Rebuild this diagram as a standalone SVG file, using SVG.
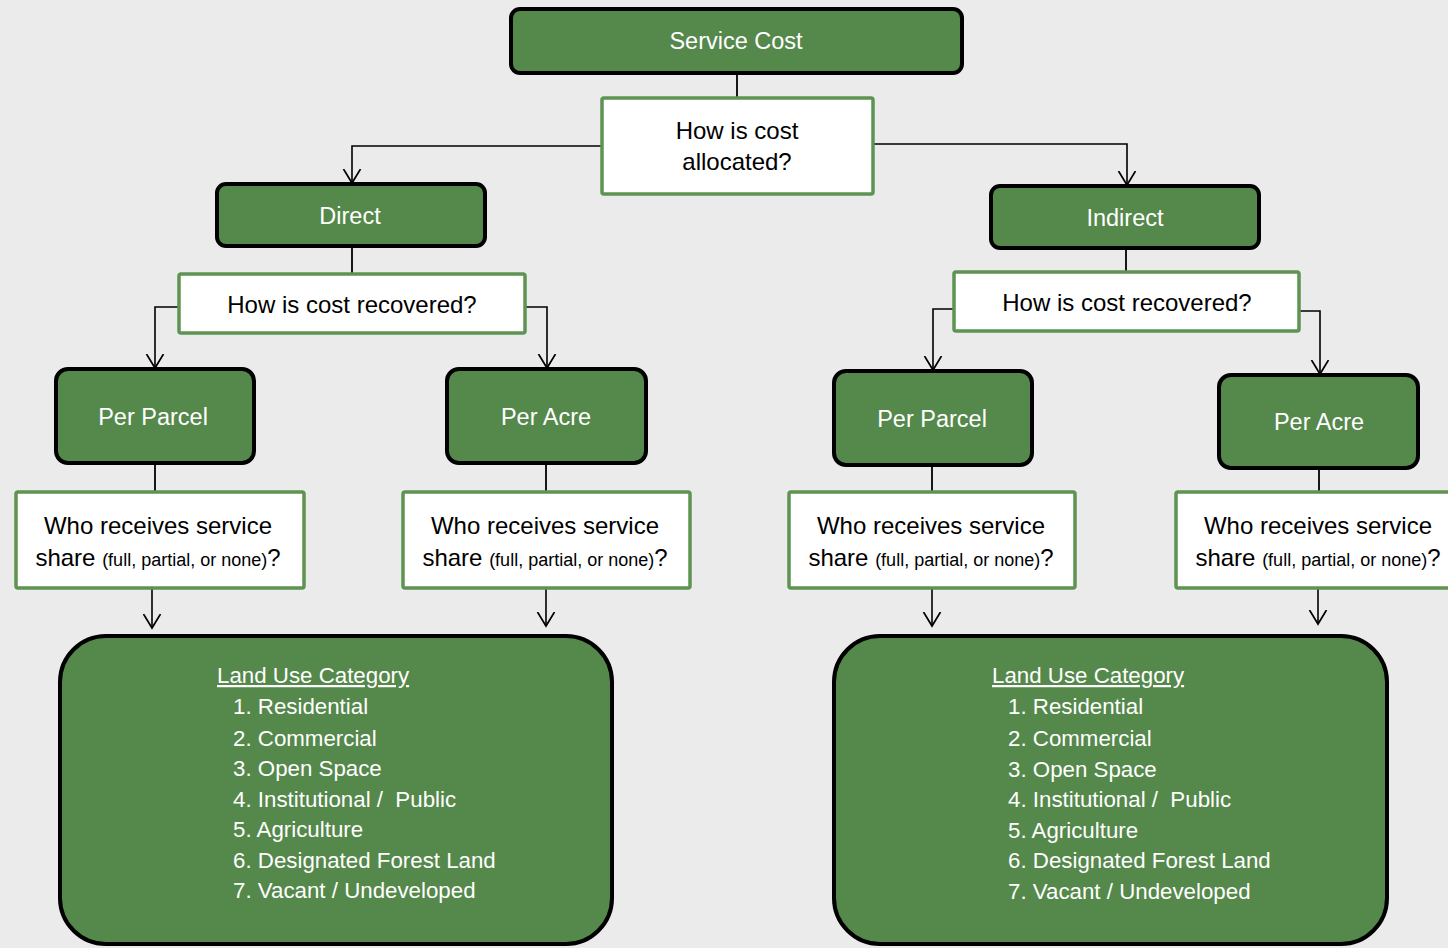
<svg xmlns="http://www.w3.org/2000/svg" width="1448" height="948" viewBox="0 0 1448 948">
<defs>
<marker id="arr" viewBox="0 -10 16 20" markerWidth="16" markerHeight="20" markerUnits="userSpaceOnUse" refX="14" refY="0" orient="auto">
<path d="M0,-8.5 L14,0 L0,8.5" fill="none" stroke="#000" stroke-width="1.7"/>
</marker>
<style>
.g{fill:#55884B;stroke:#000;stroke-width:4}
.w{fill:#fff;stroke:#5E9452;stroke-width:3.5}
.tw{font-family:"Liberation Sans",Arial,sans-serif;font-size:23.5px;fill:#fff;text-anchor:middle}
.tb{font-family:"Liberation Sans",Arial,sans-serif;font-size:24px;fill:#000;text-anchor:middle}
.sm{font-size:18px}
.lu{font-family:"Liberation Sans",Arial,sans-serif;font-size:22.3px;fill:#fff}
.c{fill:none;stroke:#000;stroke-width:1.8}
.ca{fill:none;stroke:#000;stroke-width:1.6;marker-end:url(#arr)}
</style>
</defs>
<rect width="1448" height="948" fill="#EBEBEB"/>

<g id="connectors">
<path class="c" d="M737,73 V98"/>
<path class="ca" d="M602,146 H352 V183"/>
<path class="ca" d="M873,144 H1127 V185"/>
<path class="c" d="M352,246 V274"/>
<path class="c" d="M1126,248 V272"/>
<path class="ca" d="M179,307 H155 V368"/>
<path class="ca" d="M525,307 H547 V368"/>
<path class="ca" d="M954,309 H933 V370"/>
<path class="ca" d="M1299,311 H1320 V374"/>
<path class="c" d="M155,463 V492"/>
<path class="c" d="M546,463 V492"/>
<path class="c" d="M932,465 V492"/>
<path class="c" d="M1319,468 V492"/>
<path class="ca" d="M152,588 V628"/>
<path class="ca" d="M546,588 V626"/>
<path class="ca" d="M932,588 V626"/>
<path class="ca" d="M1318,588 V624"/>
</g>

<g id="service-cost">
<rect class="g" x="511" y="9" width="451" height="64" rx="9"/>
<text class="tw" x="736" y="49">Service Cost</text>
</g>

<g id="cost-allocated">
<rect class="w" x="602" y="98" width="271" height="96" rx="2"/>
<text class="tb" x="737" y="139">How is cost</text>
<text class="tb" x="737" y="170">allocated?</text>
</g>

<g id="direct">
<rect class="g" x="217" y="184" width="268" height="62" rx="9"/>
<text class="tw" x="350" y="224">Direct</text>
</g>

<g id="indirect">
<rect class="g" x="991" y="186" width="268" height="62" rx="9"/>
<text class="tw" x="1125" y="226">Indirect</text>
</g>

<g id="recovered-direct">
<rect class="w" x="179" y="274" width="346" height="59" rx="2"/>
<text class="tb" x="352" y="313">How is cost recovered?</text>
</g>

<g id="recovered-indirect">
<rect class="w" x="954" y="272" width="345" height="59" rx="2"/>
<text class="tb" x="1127" y="311">How is cost recovered?</text>
</g>

<g id="per-parcel-direct">
<rect class="g" x="56" y="369" width="198" height="94" rx="12"/>
<text class="tw" x="153" y="425">Per Parcel</text>
</g>

<g id="per-acre-direct">
<rect class="g" x="447" y="369" width="199" height="94" rx="12"/>
<text class="tw" x="546" y="425">Per Acre</text>
</g>

<g id="per-parcel-indirect">
<rect class="g" x="834" y="371" width="198" height="94" rx="12"/>
<text class="tw" x="932" y="427">Per Parcel</text>
</g>

<g id="per-acre-indirect">
<rect class="g" x="1219" y="375" width="199" height="93" rx="12"/>
<text class="tw" x="1319" y="430">Per Acre</text>
</g>

<g id="who-1">
<rect class="w" x="16" y="492" width="288" height="96" rx="2"/>
<text class="tb" x="158" y="534">Who receives service</text>
<text class="tb" x="158" y="566">share <tspan class="sm">(full, partial, or none)</tspan>?</text>
</g>

<g id="who-2">
<rect class="w" x="403" y="492" width="287" height="96" rx="2"/>
<text class="tb" x="545" y="534">Who receives service</text>
<text class="tb" x="545" y="566">share <tspan class="sm">(full, partial, or none)</tspan>?</text>
</g>

<g id="who-3">
<rect class="w" x="789" y="492" width="286" height="96" rx="2"/>
<text class="tb" x="931" y="534">Who receives service</text>
<text class="tb" x="931" y="566">share <tspan class="sm">(full, partial, or none)</tspan>?</text>
</g>

<g id="who-4">
<rect class="w" x="1176" y="492" width="290" height="96" rx="2"/>
<text class="tb" x="1318" y="534">Who receives service</text>
<text class="tb" x="1318" y="566">share <tspan class="sm">(full, partial, or none)</tspan>?</text>
</g>

<g id="land-use-direct">
<rect class="g" x="60" y="636" width="552" height="308" rx="46"/>
<text class="lu" x="217" y="683" text-decoration="underline">Land Use Category</text>
<text class="lu" x="233" y="714">1. Residential</text>
<text class="lu" x="233" y="746">2. Commercial</text>
<text class="lu" x="233" y="776">3. Open Space</text>
<text class="lu" x="233" y="807">4. Institutional /&#160; Public</text>
<text class="lu" x="233" y="837">5. Agriculture</text>
<text class="lu" x="233" y="868">6. Designated Forest Land</text>
<text class="lu" x="233" y="898">7. Vacant / Undeveloped</text>
</g>

<g id="land-use-indirect">
<rect class="g" x="834" y="636" width="553" height="308" rx="46"/>
<text class="lu" x="992" y="683" text-decoration="underline">Land Use Category</text>
<text class="lu" x="1008" y="714">1. Residential</text>
<text class="lu" x="1008" y="746">2. Commercial</text>
<text class="lu" x="1008" y="777">3. Open Space</text>
<text class="lu" x="1008" y="807">4. Institutional /&#160; Public</text>
<text class="lu" x="1008" y="838">5. Agriculture</text>
<text class="lu" x="1008" y="868">6. Designated Forest Land</text>
<text class="lu" x="1008" y="899">7. Vacant / Undeveloped</text>
</g>
</svg>
